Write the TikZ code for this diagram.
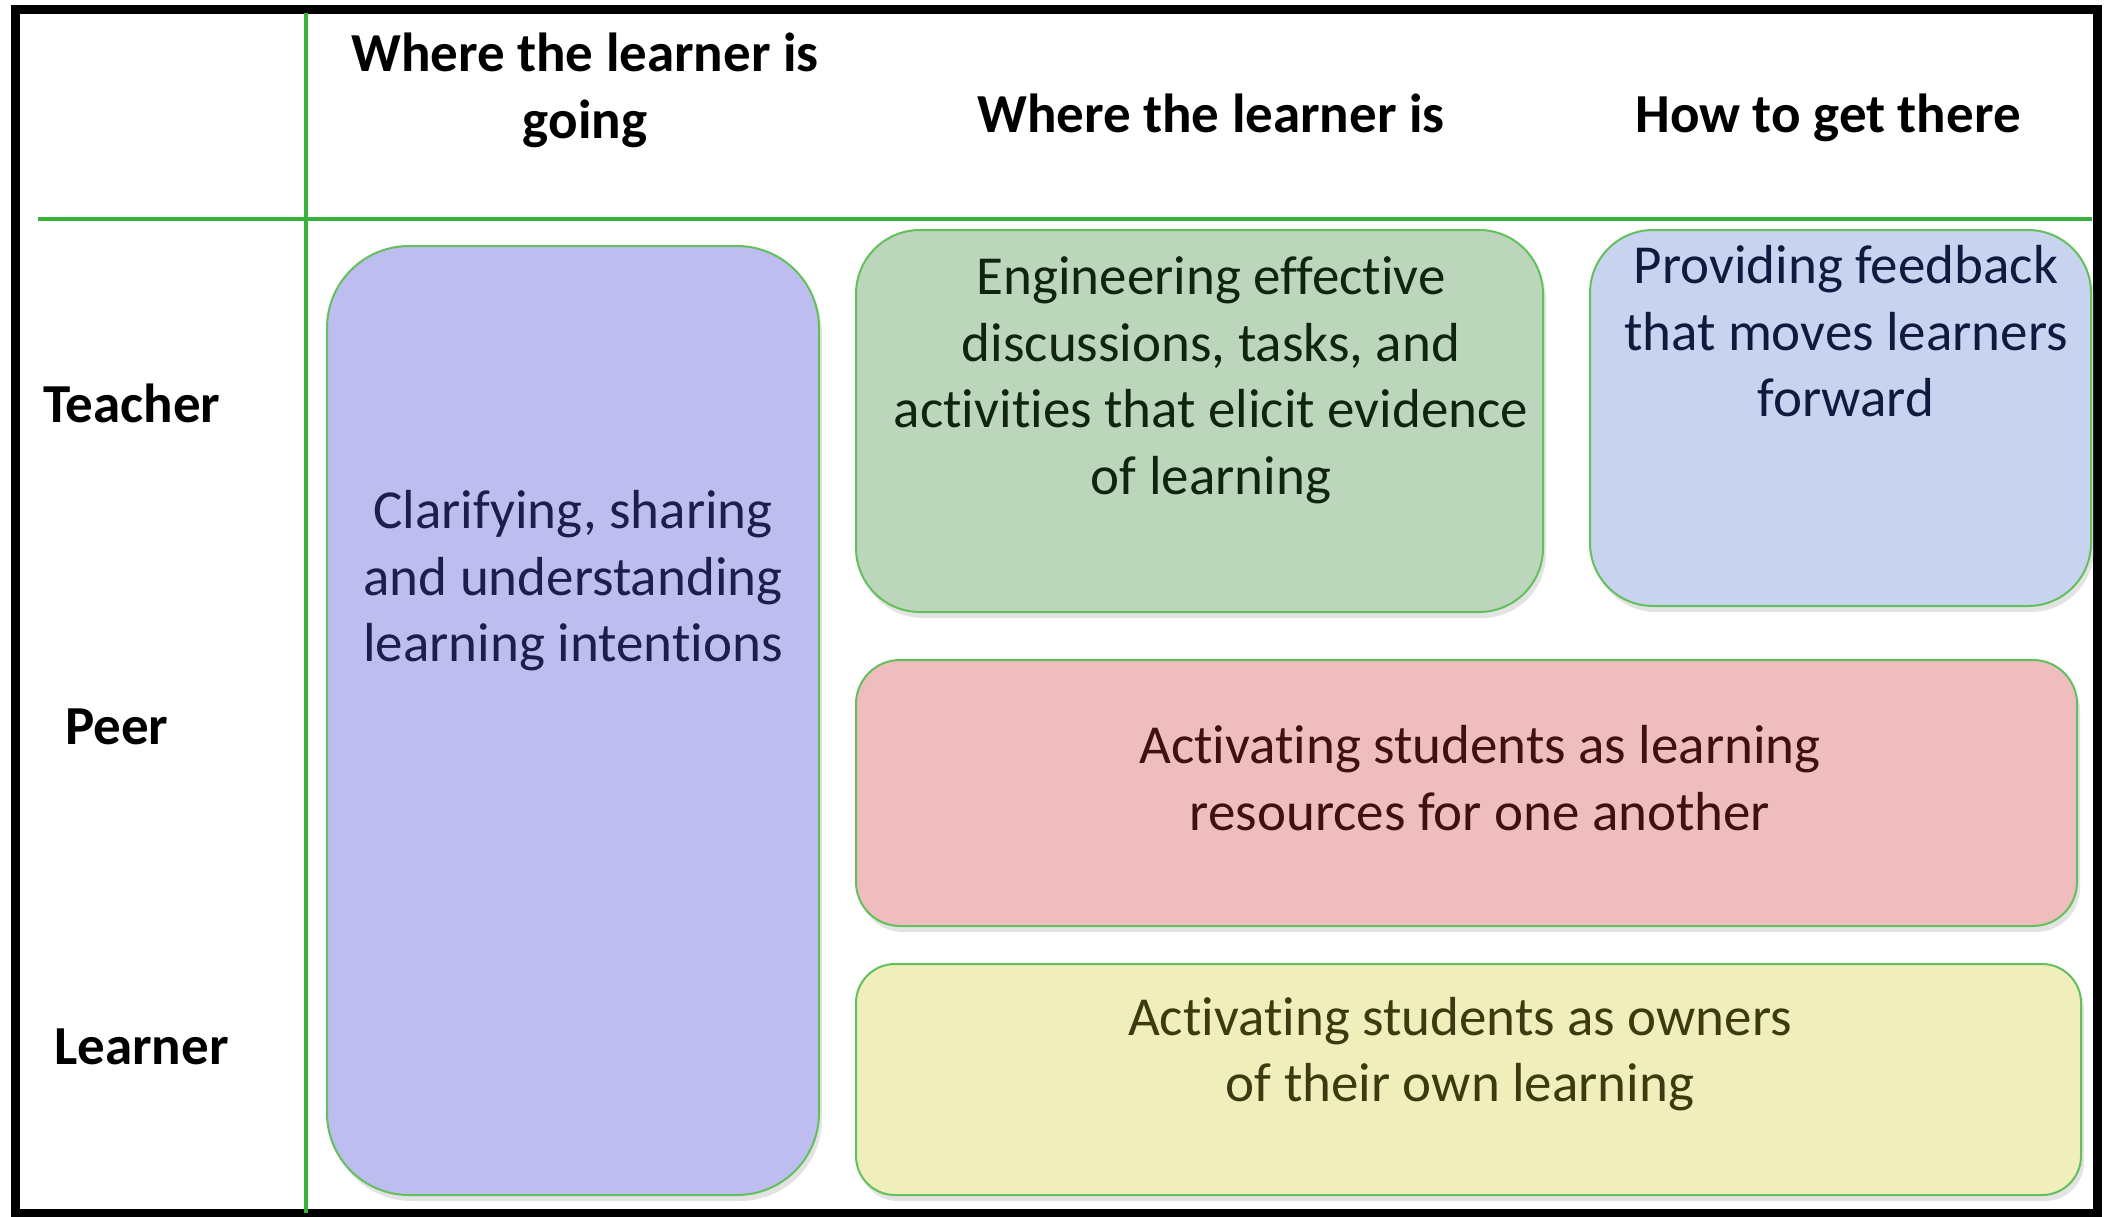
\documentclass[tikz,border=0pt]{standalone}
\usepackage{fontspec}
\setmainfont{Carlito}[Ligatures=NoCommon]
\usetikzlibrary{shadows}

\definecolor{gridgreen}{RGB}{57,176,57}
\definecolor{edgegreen}{RGB}{100,192,92}
\definecolor{lavfill}{RGB}{189,189,239}
\definecolor{sagefill}{RGB}{187,214,186}
\definecolor{bluefill}{RGB}{200,211,239}
\definecolor{rosefill}{RGB}{239,189,189}
\definecolor{creamfill}{RGB}{240,239,187}
\definecolor{lavtext}{RGB}{28,30,78}
\definecolor{sagetext}{RGB}{16,36,16}
\definecolor{bluetext}{RGB}{16,26,62}
\definecolor{rosetext}{RGB}{62,16,16}
\definecolor{creamtext}{RGB}{60,58,14}

\begin{document}
\begin{tikzpicture}[x=1pt,y=-1pt,
  card/.style={rectangle, draw=edgegreen, line width=2pt, inner sep=0pt,
    drop shadow={opacity=0.22, shadow xshift=3pt, shadow yshift=-6pt}},
  cardtext/.style={align=center, inner sep=0pt,
    font=\fontsize{55}{66.5}\selectfont},
  head/.style={align=center, inner sep=0pt,
    font=\fontsize{55}{66.5}\selectfont\bfseries},
  rowlabel/.style={anchor=west, inner sep=0pt,
    font=\fontsize{55}{66.5}\selectfont\bfseries}]

\useasboundingbox (0,0) rectangle (2108,1217);
\fill[white] (0,0) rectangle (2108,1217);

% outer frame
\draw[line width=9pt] (15.5,9.5) rectangle (2097,1213);

% grid lines
\draw[gridgreen, line width=4.5pt] (306,13) -- (306,1213);
\draw[gridgreen, line width=4.5pt] (38,219) -- (2092,219);

% column headings
\node[head] (hgoing) at (585,90.5) {Where the learner is\\going};
\node[head] (his) at (1211,113) {Where the learner is};
\node[head] (hhow) at (1828,118) {How to get there};

% row labels
\node[rowlabel] (rteacher) at (43,403) {Teacher};
\node[rowlabel] (rpeer) at (65,727) {Peer};
\node[rowlabel] (rlearner) at (54,1047) {Learner};

% strategy cards
\node[card, fill=lavfill, rounded corners=82pt, minimum width=492pt, minimum height=949pt]
  (intentions) at (573,720.5) {};
\node[card, fill=sagefill, rounded corners=64pt, minimum width=687pt, minimum height=382pt]
  (evidence) at (1199.5,421) {};
\node[card, fill=bluefill, rounded corners=63pt, minimum width=501pt, minimum height=376pt]
  (feedback) at (1840.5,418) {};
\node[card, fill=rosefill, rounded corners=44pt, minimum width=1221pt, minimum height=266pt]
  (peers) at (1466.5,793) {};
\node[card, fill=creamfill, rounded corners=39pt, minimum width=1225pt, minimum height=231pt]
  (owners) at (1468.5,1079.5) {};

% card texts
\node[cardtext, text=lavtext] (tintentions) at (573,581)
  {Clarifying, sharing\\and understanding\\learning intentions};
\node[cardtext, text=sagetext] (tevidence) at (1211,380.5)
  {Engineering effective\\discussions, tasks, and\\activities that elicit evidence\\of learning};
\node[cardtext, text=bluetext] (tfeedback) at (1846,331.5)
  {Providing feedback\\that moves learners\\forward};
\node[cardtext, text=rosetext] (tpeers) at (1480,778)
  {Activating students as learning\\resources for one another};
\node[cardtext, text=creamtext] (towners) at (1460,1054)
  {Activating students as owners\\of their own learning};

\end{tikzpicture}
\end{document}
